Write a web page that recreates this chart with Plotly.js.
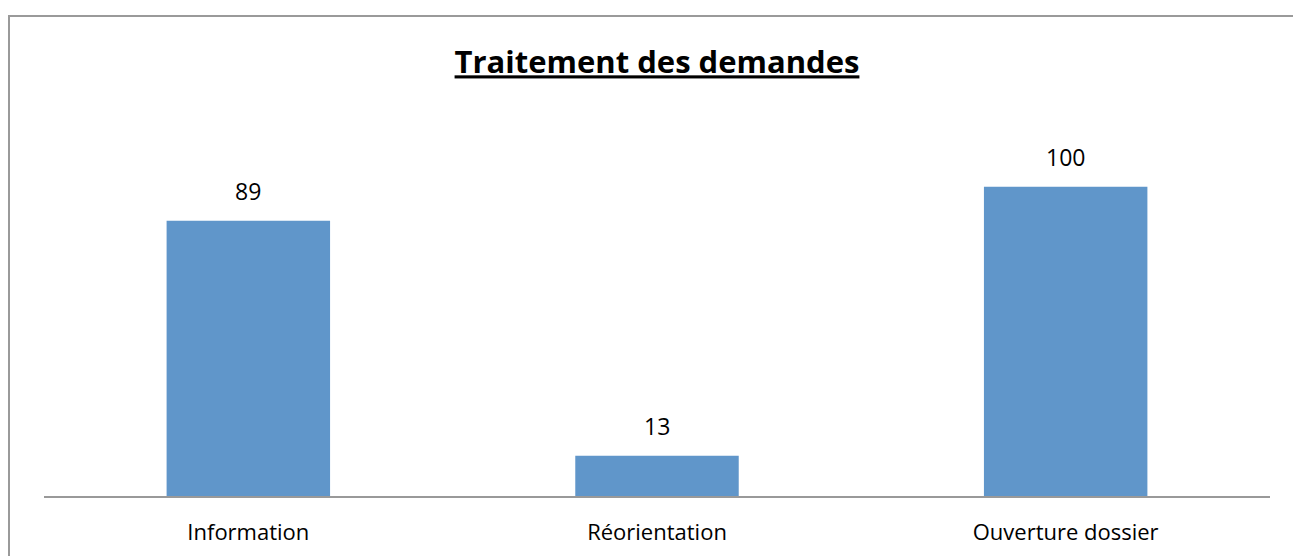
<!DOCTYPE html>
<html>
<head>
<meta charset="utf-8">
<script src="https://cdn.plot.ly/plotly-3.0.1.min.js"></script>
<style>
html,body{margin:0;padding:0;background:#fff;overflow:hidden;}
#frame{position:absolute;left:8px;top:15px;width:1400px;height:700px;border:2px solid #9a9a9a;box-sizing:border-box;pointer-events:none;}
#chart{position:absolute;left:0;top:0;width:1293px;height:556px;}
</style>
</head>
<body>
<div id="chart"></div>
<div id="frame"></div>
<script>
const categories = ["Information", "Réorientation", "Ouverture dossier"];
const values = [89, 13, 100];
const chartTitle = "Traitement des demandes";

const FONT = "'Open Sans', sans-serif";

const trace = {
  type: "bar",
  x: categories,
  y: values,
  width: 0.4,
  marker: {color: "#6096CA", line: {width: 0}},
  hoverinfo: "none"
};

const annotations = categories.map((c, i) => ({
  x: c, y: values[i], xref: "x", yref: "y",
  text: String(values[i]),
  showarrow: false,
  yanchor: "bottom",
  yshift: 12,
  font: {family: FONT, size: 23, color: "#000"}
}));

const layout = {
  width: 1293, height: 556,
  paper_bgcolor: "rgba(0,0,0,0)",
  plot_bgcolor: "rgba(0,0,0,0)",
  margin: {l: 44, r: 23, t: 125, b: 60},
  title: {
    text: "<b><u>" + chartTitle + "</u></b>",
    x: 0.5, xref: "paper", xanchor: "center",
    y: 68, yref: "container", yanchor: "middle",
    font: {family: FONT, size: 31, color: "#000"}
  },
  showlegend: false,
  bargap: 0.6,
  xaxis: {
    type: "category",
    showline: true, linecolor: "#999999", linewidth: 2,
    ticks: "", showgrid: false, zeroline: false,
    tickfont: {family: FONT, size: 22, color: "#000"},
    ticklabelstandoff: 16
  },
  yaxis: {
    range: [0, 120],
    visible: false, showgrid: false, zeroline: false
  },
  annotations: annotations
};

Plotly.newPlot("chart", [trace], layout, {displayModeBar: false, staticPlot: true});
</script>
</body>
</html>
